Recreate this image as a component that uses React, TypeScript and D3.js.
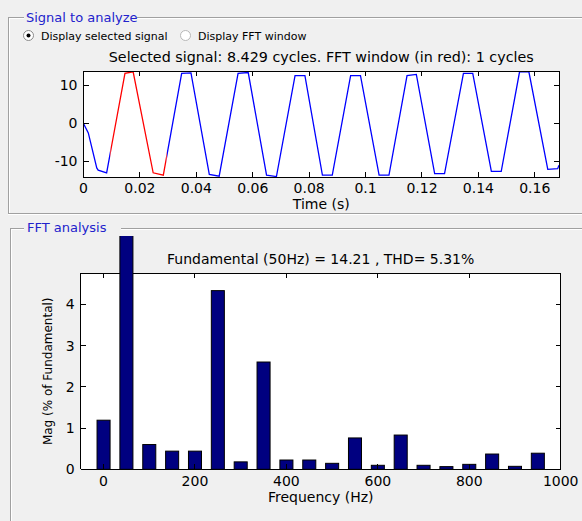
import React from "react";
import * as d3 from "d3";

// ---- data ----
const sigTime = [0, 0.0017, 0.0047, 0.0052, 0.0082, 0.0147, 0.0176, 0.0247, 0.0283, 0.0348, 0.0381, 0.0446, 0.0481, 0.0548, 0.0584, 0.0649, 0.0684, 0.075, 0.0785, 0.0847, 0.0882, 0.0947, 0.0982, 0.1048, 0.1083, 0.1147, 0.118, 0.1245, 0.128, 0.1347, 0.138, 0.1446, 0.1481, 0.1546, 0.1579, 0.1646, 0.1681, 0.16858];
const sigValue = [0, -2.5, -11.7, -12.3, -13.0, 13.2, 13.6, -13.0, -13.6, 13.2, 13.3, -13.4, -13.9, 13.2, 13.4, -13.6, -14.0, 12.6, 12.6, -13.6, -13.6, 12.6, 12.6, -13.6, -13.6, 12.6, 12.9, -13.2, -13.2, 13.2, 13.2, -12.6, -12.6, 13.6, 13.6, -12.1, -11.9, -11.0];
const fftWindow = [0.0095, 0.0295];
const timeTicks = [0, 0.02, 0.04, 0.06, 0.08, 0.1, 0.12, 0.14, 0.16];
const timeTickLabels = ["0", "0.02", "0.04", "0.06", "0.08", "0.1", "0.12", "0.14", "0.16"];
const sigTicks = [-10, 0, 10];

const freqs = [0, 50, 100, 150, 200, 250, 300, 350, 400, 450, 500, 550, 600, 650, 700, 750, 800, 850, 900, 950];
const mags = [1.19, 100, 0.6, 0.44, 0.44, 4.33, 0.18, 2.6, 0.225, 0.225, 0.145, 0.76, 0.097, 0.83, 0.097, 0.065, 0.12, 0.37, 0.072, 0.39];
const freqTicks = [0, 200, 400, 600, 800, 1000];
const magTicks = [0, 1, 2, 3, 4];

const topTitle = "Selected signal: 8.429 cycles. FFT window (in red): 1 cycles";
const bottomTitle = "Fundamental (50Hz) = 14.21 , THD= 5.31%";

const FONT = "'DejaVu Sans', sans-serif";

export default function App() {
  const W = 582, H = 521;
  // top axes
  const tx = d3.scaleLinear().domain([0, 0.16858]).range([83.5, 559]);
  const ty = d3.scaleLinear().domain([-14.1, 13.8]).range([177, 71]);
  const line = d3.line<number>().x((_, i) => tx(sigTime[i])).y((v) => ty(v));
  const sigPath = line(sigValue) || "";

  // bottom axes
  const bx = d3.scaleLinear().domain([-50, 1000]).range([80.7, 560.7]);
  const by = d3.scaleLinear().domain([0, 4.75]).range([469.3, 273.3]);
  const barHalf = 14.25;
  const barClipTop = 236;

  const tk = 5;
  const bg = "#f0f0f0";
  const etch = "#a0a0a0";

  const [tx0, tx1] = tx.range();
  const [ty0, ty1] = ty.range();
  const [bx0, bx1] = bx.range();
  const [by0, by1] = by.range();
  const wx0 = tx(fftWindow[0]);
  const wx1 = tx(fftWindow[1]);

  return (
    <svg width={W} height={H} style={{ position: "fixed", left: 0, top: 0, display: "block" }} fontFamily={FONT}>
      <defs>
        <clipPath id="redclip">
          <rect x={wx0} y={ty1 - 2} width={wx1 - wx0} height={ty0 - ty1 + 4} />
        </clipPath>
        <clipPath id="blueclip">
          <rect x={tx0} y={ty1 - 2} width={wx0 - tx0} height={ty0 - ty1 + 4} />
          <rect x={wx1} y={ty1 - 2} width={tx1 - wx1} height={ty0 - ty1 + 4} />
        </clipPath>
        <clipPath id="barclip">
          <rect x={bx0} y={barClipTop} width={bx1 - bx0} height={by0 - barClipTop} />
        </clipPath>
      </defs>
      <rect x={0} y={0} width={W} height={H} fill={bg} />

      {/* panel frames */}
      <g shapeRendering="crispEdges">
        <line x1={8} x2={24} y1={17.5} y2={17.5} stroke={etch} />
        <line x1={137} x2={W} y1={17.5} y2={17.5} stroke={etch} />
        <line x1={8} x2={24} y1={18.5} y2={18.5} stroke="#fff" />
        <line x1={137} x2={W} y1={18.5} y2={18.5} stroke="#fff" />
        <line x1={8.5} x2={8.5} y1={17} y2={214} stroke={etch} />
        <line x1={9.5} x2={9.5} y1={18} y2={213} stroke="#fff" />
        <line x1={8} x2={W} y1={213.5} y2={213.5} stroke={etch} />
        <line x1={8} x2={W} y1={214.5} y2={214.5} stroke="#fff" />

        <line x1={10} x2={24} y1={228.5} y2={228.5} stroke={etch} />
        <line x1={121} x2={W} y1={228.5} y2={228.5} stroke={etch} />
        <line x1={10} x2={24} y1={229.5} y2={229.5} stroke="#fff" />
        <line x1={121} x2={W} y1={229.5} y2={229.5} stroke="#fff" />
        <line x1={10.5} x2={10.5} y1={228} y2={H} stroke={etch} />
        <line x1={11.5} x2={11.5} y1={229} y2={H} stroke="#fff" />
      </g>
      <text x={26} y={22} fontSize={13} fill="#2222cc">Signal to analyze</text>
      <text x={27} y={232} fontSize={13} fill="#2222cc">FFT analysis</text>

      {/* radio buttons */}
      <circle cx={28.5} cy={35.5} r={5} fill="#fff" stroke="#8a8a8a" />
      <circle cx={28.5} cy={35.5} r={2} fill="#000" />
      <text x={41} y={39.5} fontSize={11} fill="#000">Display selected signal</text>
      <circle cx={185.5} cy={35.5} r={5} fill="#fff" stroke="#b8b8b8" />
      <text x={198} y={39.5} fontSize={11} fill="#000">Display FFT window</text>

      {/* ---- top axes ---- */}
      <text x={(tx0 + tx1) / 2} y={62} fontSize={14.3} textAnchor="middle" fill="#000">{topTitle}</text>
      <rect x={tx0} y={ty1} width={tx1 - tx0} height={ty0 - ty1} fill="#fff" />
      <path d={sigPath} fill="none" stroke="#0000ff" strokeWidth={1.3} clipPath="url(#blueclip)" />
      <path d={sigPath} fill="none" stroke="#ff0000" strokeWidth={1.3} clipPath="url(#redclip)" />
      <g stroke="#000" shapeRendering="crispEdges">
        {timeTicks.map((t) => (
          <g key={t}>
            <line x1={tx(t)} x2={tx(t)} y1={ty0} y2={ty0 - tk} />
            <line x1={tx(t)} x2={tx(t)} y1={ty1} y2={ty1 + tk} />
          </g>
        ))}
        {sigTicks.map((v) => (
          <g key={v}>
            <line x1={tx0} x2={tx0 + tk} y1={ty(v)} y2={ty(v)} />
            <line x1={tx1} x2={tx1 - tk} y1={ty(v)} y2={ty(v)} />
          </g>
        ))}
        <rect x={tx0} y={ty1} width={tx1 - tx0} height={ty0 - ty1} fill="none" />
      </g>
      {timeTicks.map((t, i) => (
        <text key={t} x={tx(t)} y={193} fontSize={14} textAnchor="middle" fill="#000">{timeTickLabels[i]}</text>
      ))}
      {sigTicks.map((v) => (
        <text key={v} x={tx0 - 6} y={ty(v) + 5} fontSize={14} textAnchor="end" fill="#000">{String(v)}</text>
      ))}
      <text x={(tx0 + tx1) / 2} y={209} fontSize={14} textAnchor="middle" fill="#000">Time (s)</text>

      {/* ---- bottom axes ---- */}
      <text x={(bx0 + bx1) / 2} y={264} fontSize={14} textAnchor="middle" fill="#000">{bottomTitle}</text>
      <rect x={bx0} y={by1} width={bx1 - bx0} height={by0 - by1} fill="#fff" />
      <g clipPath="url(#barclip)">
        {freqs.map((f, i) => (
          <rect
            key={f}
            x={bx(f - barHalf)}
            y={by(mags[i])}
            width={bx(f + barHalf) - bx(f - barHalf)}
            height={by0 - by(mags[i])}
            fill="#000080"
            stroke="#000"
            strokeWidth={1}
          />
        ))}
      </g>
      <g stroke="#000" shapeRendering="crispEdges">
        {freqTicks.map((f) => (
          <g key={f}>
            <line x1={bx(f)} x2={bx(f)} y1={by0} y2={by0 - tk} />
            <line x1={bx(f)} x2={bx(f)} y1={by1} y2={by1 + tk} />
          </g>
        ))}
        {magTicks.map((v) => (
          <g key={v}>
            <line x1={bx0} x2={bx0 + tk} y1={by(v)} y2={by(v)} />
            <line x1={bx1} x2={bx1 - tk} y1={by(v)} y2={by(v)} />
          </g>
        ))}
        <line x1={bx0} x2={bx1} y1={by0} y2={by0} />
        <line x1={bx0} x2={bx0} y1={by0} y2={by1} />
        <line x1={bx1} x2={bx1} y1={by0} y2={by1} />
        <line x1={bx0} x2={bx(freqs[1] - barHalf)} y1={by1} y2={by1} />
        <line x1={bx(freqs[1] + barHalf)} x2={bx1} y1={by1} y2={by1} />
      </g>
      {freqTicks.map((f) => (
        <text key={f} x={bx(f)} y={486} fontSize={14} textAnchor="middle" fill="#000">{String(f)}</text>
      ))}
      {magTicks.map((v) => (
        <text key={v} x={bx0 - 6} y={by(v) + 5} fontSize={14} textAnchor="end" fill="#000">{String(v)}</text>
      ))}
      <text x={(bx0 + bx1) / 2} y={502} fontSize={14} textAnchor="middle" fill="#000">Frequency (Hz)</text>
      <text transform={`translate(52, ${(by0 + by1) / 2}) rotate(-90)`} fontSize={12} textAnchor="middle" fill="#000">Mag (% of Fundamental)</text>
    </svg>
  );
}
